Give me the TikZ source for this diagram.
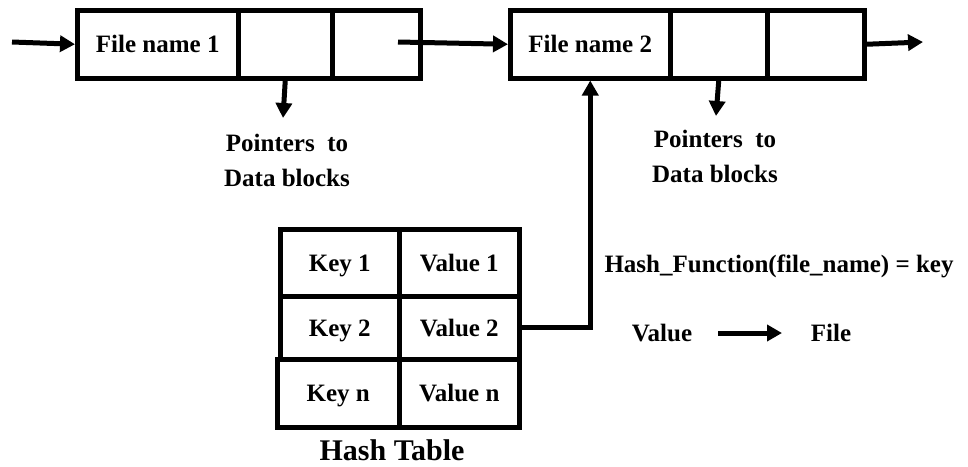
\documentclass[tikz,border=0pt]{standalone}
\usepackage{fontspec}
\setmainfont{Liberation Serif}
\usetikzlibrary{arrows.meta}
\begin{document}
\begin{tikzpicture}[x=1pt,y=-1pt,
  cell/.style={draw,line width=4.5pt,inner sep=0pt,anchor=north west,text height=20pt,text depth=3.5pt,font=\fontsize{25}{30}\selectfont\bfseries},
  arr/.style={line width=5pt,-{Triangle[length=15pt,width=16pt]}},
  lbl/.style={font=\fontsize{25}{35}\selectfont\bfseries,align=center,inner sep=0pt}]
\useasboundingbox (0,0) rectangle (968,466);
% linked list block 1
\node[cell,minimum width=161pt,minimum height=68pt] (b1a) at (75,8) {File name 1};
\node[cell,minimum width=94pt,minimum height=68pt] (b1b) at (236,8) {};
\node[cell,minimum width=88pt,minimum height=68pt] (b1c) at (330,8) {};
% linked list block 2
\node[cell,minimum width=160pt,minimum height=68pt] (b2a) at (508,8) {File name 2};
\node[cell,minimum width=97pt,minimum height=68pt] (b2b) at (668,8) {};
\node[cell,minimum width=97pt,minimum height=68pt] (b2c) at (765,8) {};
% list arrows
\coordinate (in) at (12,42);
\coordinate (out) at (923,42);
\coordinate (nxt) at (398,42);
\draw[arr] (in) -- (b1a.west);
\draw[arr] (nxt) -- (b2a.west);
\draw[arr] (b2c.east) -- (out);
% pointer arrows
\coordinate (p1) at (283,118);
\coordinate (p2) at (716,116);
\draw[arr] (b1b.south) -- (p1);
\draw[arr] (b2b.south) -- (p2);
\node[lbl] (t1) at (287,160) {Pointers\ \ to\\Data blocks};
\node[lbl] (t2) at (715,156) {Pointers\ \ to\\Data blocks};
% hash table
\node[cell,minimum width=119pt,minimum height=67pt] (k1) at (278,227) {Key 1};
\node[cell,minimum width=120pt,minimum height=67pt] (v1) at (397,227) {Value 1};
\node[cell,minimum width=119pt,minimum height=63pt] (k2) at (278,294) {Key 2};
\node[cell,minimum width=120pt,minimum height=63pt] (v2) at (397,294) {Value 2};
\node[cell,minimum width=122pt,minimum height=68pt] (kn) at (275,357) {Key n};
\node[cell,minimum width=120pt,minimum height=68pt] (vn) at (397,357) {Value n};
\node[lbl,font=\fontsize{30}{36}\selectfont\bfseries] (ht) at (392,450) {Hash Table};
% hash link
\draw[arr] (v2.east) -| (b2a.south);
% right-hand notes
\node[lbl] (hf) at (779,266) {Hash\_Function(file\_name) = key};
\node[lbl] (val) at (662,333) {Value};
\node[lbl] (fil) at (831,333) {File};
\coordinate (va) at (718,333);
\coordinate (fa) at (782,333);
\draw[arr] (va) -- (fa);
\end{tikzpicture}
\end{document}
